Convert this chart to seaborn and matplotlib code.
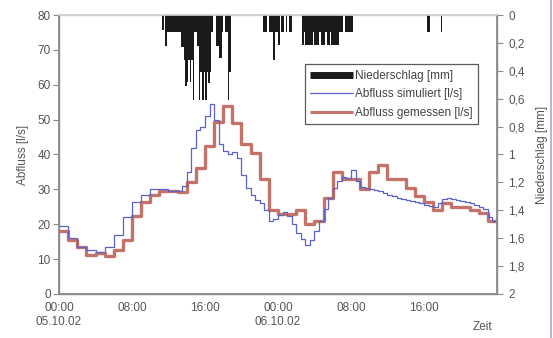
import numpy as np
import pandas as pd
import matplotlib
matplotlib.use("Agg")
import matplotlib.pyplot as plt
import seaborn as sns
from matplotlib.lines import Line2D

sns.set_theme(style="white")
plt.rcParams['font.family'] = ['Liberation Sans', 'DejaVu Sans']

# ---------------- data ----------------
# measured discharge [l/s], hourly steps from 05.10.02 00:00
meas_hours = list(range(0, 49))
meas_flow = [18, 15.5, 13.5, 11.3, 11.8, 10.8, 12.5, 15.5, 22.5, 26.5,
             28.5, 29.5, 29.5, 29.3, 32, 36, 42.3, 49.2, 54, 49,
             43, 40.5, 33, 24, 23, 23, 24, 20, 21, 27.5,
             35, 33, 33, 30, 35, 37, 33, 33, 30.3, 28,
             26.5, 24, 26, 25, 25, 24, 23.3, 21, 21]

# simulated discharge [l/s], half-hourly
sim_hours = [i * 0.5 for i in range(97)]
sim_flow = [19.5, 19.5, 16, 16, 13.5, 13.5, 12.5, 12.5, 12, 12,
            13.5, 13.5, 17, 17, 22, 22, 26.5, 26.5, 28.5, 28.5,
            30, 30, 30, 30, 29.5, 29.5, 29.5, 31, 35, 42,
            47, 48, 51, 54.6, 50, 43, 41, 40, 40.8, 39,
            34, 30.5, 28.3, 27, 26, 24, 21, 21.5, 22.6, 23.5,
            22.5, 20, 17.5, 15.8, 14, 15.5, 18, 21, 24.5, 27.5,
            30.5, 32.5, 33.6, 33.3, 35.5, 32.5, 30.8, 30.5, 30, 29.7,
            29.4, 29, 28.3, 28, 27.6, 27.3, 27, 26.6, 26.3, 26,
            25.6, 25.3, 25, 26, 27.3, 27.4, 27.2, 27, 26.8, 26.5,
            26, 25.6, 25, 24.5, 22, 21, 20.7]

# precipitation [mm] per 10 minutes (start time in hours)
rain_hours = [11 + 2/6, 11 + 4/6, 11 + 5/6,
              12, 12 + 1/6, 12 + 2/6, 12 + 3/6, 12 + 4/6, 12 + 5/6,
              13, 13 + 1/6, 13 + 2/6, 13 + 3/6, 13 + 4/6, 13 + 5/6,
              14, 14 + 1/6, 14 + 2/6, 14 + 3/6, 14 + 4/6, 14 + 5/6,
              15, 15 + 1/6, 15 + 2/6, 15 + 3/6, 15 + 4/6, 15 + 5/6,
              16, 16 + 1/6, 16 + 2/6, 16 + 3/6, 16 + 4/6,
              17 + 1/6, 17 + 2/6, 17 + 3/6, 17 + 4/6, 17 + 5/6,
              18 + 1/6, 18 + 2/6, 18 + 3/6, 18 + 4/6,
              22 + 2/6, 22 + 3/6, 22 + 4/6,
              23, 23 + 1/6, 23 + 2/6, 23 + 3/6, 23 + 4/6, 23 + 5/6,
              24, 24 + 2/6, 24 + 3/6, 24 + 5/6, 25 + 1/6, 25 + 2/6,
              26 + 4/6, 26 + 5/6,
              27, 27 + 1/6, 27 + 2/6, 27 + 3/6, 27 + 4/6, 27 + 5/6,
              28, 28 + 1/6, 28 + 2/6, 28 + 3/6, 28 + 4/6, 28 + 5/6,
              29, 29 + 1/6, 29 + 2/6, 29 + 3/6, 29 + 4/6, 29 + 5/6,
              30, 30 + 1/6, 30 + 2/6, 30 + 3/6, 30 + 4/6, 30 + 5/6,
              31, 31 + 2/6, 31 + 3/6, 31 + 4/6, 31 + 5/6, 32,
              40 + 2/6, 40 + 3/6, 41 + 5/6]
rain_mm = [0.11, 0.22, 0.12,
           0.12, 0.12, 0.12, 0.12, 0.12, 0.12,
           0.12, 0.12, 0.23, 0.23, 0.32, 0.51,
           0.48, 0.32, 0.48, 0.32, 0.61, 0.12,
           0.12, 0.22, 0.61, 0.41, 0.61, 0.41,
           0.61, 0.41, 0.49, 0.41, 0.12,
           0.22, 0.22, 0.31, 0.31, 0.12,
           0.12, 0.12, 0.61, 0.41,
           0.12, 0.12, 0.12,
           0.12, 0.12, 0.12, 0.32, 0.12, 0.12,
           0.215, 0.12, 0.12, 0.12, 0.12, 0.12,
           0.215, 0.12,
           0.215, 0.215, 0.215, 0.215, 0.215, 0.12,
           0.215, 0.215, 0.215, 0.12, 0.215, 0.215,
           0.215, 0.12, 0.215, 0.215, 0.12, 0.215,
           0.215, 0.215, 0.215, 0.215, 0.12, 0.12,
           0.12, 0.12, 0.12, 0.12, 0.12, 0.12,
           0.12, 0.12, 0.12]

x_tick_hours = [0, 8, 16, 24, 32, 40]
x_tick_labels = ["00:00\n05.10.02", "08:00", "16:00", "00:00\n06.10.02", "08:00", "16:00"]
left_ticks = [0, 10, 20, 30, 40, 50, 60, 70, 80]
right_ticks = [0, 0.2, 0.4, 0.6, 0.8, 1, 1.2, 1.4, 1.6, 1.8, 2]
right_labels = ["0", "0,2", "0,4", "0,6", "0,8", "1", "1,2", "1,4", "1,6", "1,8", "2"]

# ---------------- plot ----------------
RED = "#c4736b"
BLUE = "#5b63c8"
GRAY_TXT = "#555555"
SPINE = "#8a8a8a"

fig = plt.figure(figsize=(5.53, 3.38), dpi=100)
fig.patch.set_facecolor("white")
ax = fig.add_axes([0.1067, 0.1302, 0.7920, 0.8254])
ax.set_facecolor("white")

df_meas = pd.DataFrame({"t": meas_hours, "q": meas_flow})
df_sim = pd.DataFrame({"t": sim_hours, "q": sim_flow})

sns.lineplot(data=df_sim, x="t", y="q", ax=ax, color=BLUE, lw=0.9,
             drawstyle="steps-post", zorder=4, legend=False)
sns.lineplot(data=df_meas, x="t", y="q", ax=ax, color=RED, lw=2.4,
             drawstyle="steps-post", zorder=3, legend=False)

ax.set_xlim(0, 48)
ax.set_ylim(0, 80)
ax.set_yticks(left_ticks)
ax.set_xticks(x_tick_hours)
ax.set_xticklabels(x_tick_labels)
ax.set_xticks(list(range(0, 49, 2)), minor=True)
ax.set_xlabel("")
ax.set_ylabel("Abfluss [l/s]", fontsize=8.5, color=GRAY_TXT, labelpad=6)
ax.tick_params(axis="both", which="both", labelsize=8.5, colors=SPINE,
               labelcolor=GRAY_TXT, direction="out", length=4, width=0.8)
ax.tick_params(axis="x", which="major", pad=2)
ax.tick_params(axis="y", pad=2)
for lab in ax.get_xticklabels():
    lab.set_horizontalalignment("center")

for s in ["left", "bottom", "right"]:
    ax.spines[s].set_color(SPINE)
    ax.spines[s].set_linewidth(1.0)
ax.spines["top"].set_color("#d0d0d0")
ax.spines["top"].set_linewidth(1.0)

ax2 = ax.twinx()
ax2.bar(rain_hours, rain_mm, width=0.17, align="edge", color="#1a1a1a",
        edgecolor="none", linewidth=0, zorder=2)
ax2.set_ylim(2, 0)
ax2.set_yticks(right_ticks)
ax2.set_yticklabels(right_labels)
ax2.set_ylabel("Niederschlag [mm]", fontsize=8.5, color=GRAY_TXT, labelpad=8)
ax2.tick_params(axis="y", labelsize=8.5, colors=SPINE, labelcolor=GRAY_TXT,
                direction="out", length=4, width=0.8, pad=4)
for s in ["left", "bottom", "right"]:
    ax2.spines[s].set_color(SPINE)
ax2.spines["top"].set_color("#d0d0d0")
ax2.grid(False)
ax.grid(False)

fig.text(0.855, 0.015, "Zeit", fontsize=8.5, color=GRAY_TXT, ha="left", va="bottom")

handles = [Line2D([], [], color="#1a1a1a", lw=5, solid_capstyle="butt"),
           Line2D([], [], color=BLUE, lw=0.9),
           Line2D([], [], color=RED, lw=2.2, solid_capstyle="butt")]
labels = ["Niederschlag [mm]", "Abfluss simuliert [l/s]", "Abfluss gemessen [l/s]"]
leg = ax2.legend(handles, labels, loc="upper left", bbox_to_anchor=(0.562, 0.823),
                 fontsize=8.5, frameon=True, fancybox=False, handlelength=3.6,
                 handletextpad=0.15, borderpad=0.45, labelspacing=0.55,
                 borderaxespad=0)
leg.get_frame().set_edgecolor("#333333")
leg.get_frame().set_linewidth(0.9)
for t in leg.get_texts():
    t.set_color("#444444")

# light purple edge on the right of the image
fig.add_artist(Line2D([0.9955, 0.9955], [0, 1], transform=fig.transFigure,
                      color="#b4b4e6", lw=1.5))

fig.savefig("out.png", dpi=100)
